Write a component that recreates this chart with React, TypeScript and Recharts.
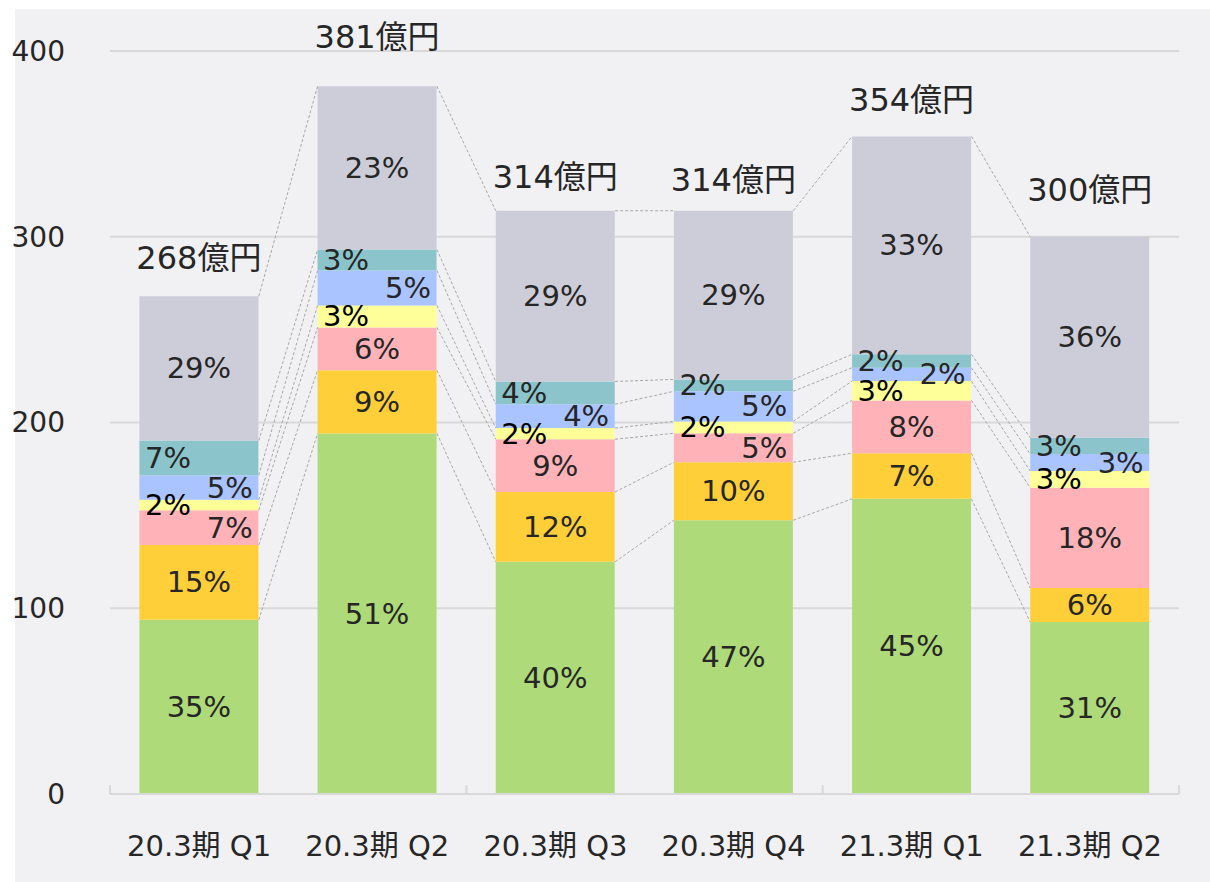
import { ComposedChart, Bar, Line, XAxis, YAxis, CartesianGrid, LabelList } from 'recharts';

// 売上構成（億円）
const categories = ['20.3期 Q1', '20.3期 Q2', '20.3期 Q3', '20.3期 Q4', '21.3期 Q1', '21.3期 Q2'];
const green = [93.8, 194.1, 125.0, 147.4, 158.9, 92.6];
const orange = [40.2, 34.0, 37.6, 31.2, 24.6, 18.3];
const pink = [18.8, 23.1, 28.4, 15.6, 28.4, 54.0];
const yellow = [5.6, 11.8, 6.0, 6.4, 10.4, 9.0];
const blue = [13.2, 18.8, 12.8, 16.2, 7.2, 9.1];
const teal = [18.7, 11.3, 12.3, 6.4, 7.2, 8.8];
const gray = [77.7, 87.9, 91.9, 90.8, 117.3, 108.2];
const yTicks = [0, 100, 200, 300, 400];

const FONT = '"DejaVu Sans", "Noto Sans CJK JP", sans-serif';
const TEXT = '#262626';
const GRID = '#d9d9d9';
const GAP = 0.165; // barCategoryGap as fraction of band
const X_TICK_MARGIN = 41;
// how far each total label sits above its bar (label centre), as placed in the source
const totalLift = [38, 49, 34, 31, 36, 47];

type Place = 'center' | 'left' | 'right' | 'auto';

const series: { key: string; values: number[]; color: string; place: Place; text: string }[] = [
  { key: 'green', values: green, color: '#aeda7a', place: 'center', text: TEXT },
  { key: 'orange', values: orange, color: '#ffcf3a', place: 'center', text: TEXT },
  { key: 'pink', values: pink, color: '#ffb3b8', place: 'auto', text: TEXT },
  { key: 'yellow', values: yellow, color: '#ffff99', place: 'left', text: '#000' },
  { key: 'blue', values: blue, color: '#a9c4ff', place: 'right', text: TEXT },
  { key: 'teal', values: teal, color: '#8bc5cb', place: 'left', text: TEXT },
  { key: 'gray', values: gray, color: '#cdcdd9', place: 'center', text: TEXT },
];

const totals = categories.map((_, i) => Math.round(series.reduce((s, se) => s + se.values[i], 0)));

const data = categories.map((name, i) => {
  const row: Record<string, number | string> = { name, total: totals[i] };
  series.forEach((s) => {
    row[s.key] = s.values[i];
  });
  return row;
});

// dotted connectors between the top of each layer in neighbouring bars
const connectors = series.map((_, k) => {
  const cum = categories.map((__, i) => series.slice(0, k + 1).reduce((s, se) => s + se.values[i], 0));
  const pts: { x: number; y: number | null }[] = [];
  for (let i = 0; i < categories.length - 1; i++) {
    pts.push({ x: i + 1 - GAP, y: cum[i] });
    pts.push({ x: i + 1 + GAP, y: cum[i + 1] });
    pts.push({ x: i + 1 + GAP, y: null });
  }
  return pts;
});

const makeSegmentLabel = (s: (typeof series)[number]) => (props: any) => {
  const { x, y, width, height, value, index } = props;
  if (value == null) return null;
  const pct = Math.round((Number(value) / totals[index]) * 100);
  let place = s.place;
  if (place === 'auto') place = Number(value) < 20 ? 'right' : 'center';
  const shift = Number(width) * 0.26;
  let cx = Number(x) + Number(width) / 2;
  if (place === 'left') cx -= shift;
  if (place === 'right') cx += shift;
  return (
    <text
      x={cx}
      y={Number(y) + Number(height) / 2}
      textAnchor="middle"
      dominantBaseline="central"
      fontSize={29}
      fontFamily={FONT}
      fill={s.text}
    >
      {pct}%
    </text>
  );
};

const TotalLabel = (props: any) => {
  const { x, y, width, value, index } = props;
  return (
    <text
      x={Number(x) + Number(width) / 2}
      y={Number(y) - totalLift[index]}
      textAnchor="middle"
      dominantBaseline="central"
      fontSize={32}
      fontFamily={FONT}
      fill={TEXT}
    >
      {value}億円
    </text>
  );
};

const CategoryTick = (props: any) => {
  const { x, y, payload, index } = props;
  const band = (props.width ?? 1069) / categories.length;
  const axisY = y - X_TICK_MARGIN;
  const last = index === categories.length - 1;
  return (
    <g>
      <text x={x} y={y} dy="0.71em" textAnchor="middle" fontSize={29} fontFamily={FONT} fill={TEXT}>
        {payload.value}
      </text>
      {index % 2 === 0 && (
        <line x1={x - band / 2} x2={x - band / 2} y1={axisY} y2={axisY - 9} stroke={GRID} strokeWidth={2} />
      )}
      {last && <line x1={x + band / 2} x2={x + band / 2} y1={axisY} y2={axisY - 9} stroke={GRID} strokeWidth={2} />}
    </g>
  );
};

const App = () => {
  return (
    <div style={{ position: 'absolute', left: 0, top: 0, width: 1210, height: 882, fontFamily: FONT }}>
      <style>{'body{margin:0;overflow:hidden}'}</style>
      <div style={{ position: 'absolute', left: 15, top: 9, width: 1195, height: 873, background: '#f1f1f4' }} />
      <div style={{ position: 'absolute', left: 0, top: 9 }}>
        <ComposedChart
          width={1210}
          height={873}
          data={data}
          margin={{ top: 42, right: 31, left: 30, bottom: 28 }}
          barCategoryGap={`${GAP * 100}%`}
        >
          <CartesianGrid vertical={false} stroke={GRID} strokeWidth={2} />
          <XAxis
            dataKey="name"
            height={60}
            tickLine={false}
            tickSize={0}
            tickMargin={X_TICK_MARGIN}
            axisLine={{ stroke: GRID, strokeWidth: 2 }}
            tick={<CategoryTick />}
            interval={0}
          />
          <XAxis xAxisId="conn" type="number" dataKey="x" domain={[0, categories.length]} hide />
          <YAxis
            width={80}
            domain={[0, 400]}
            ticks={yTicks}
            axisLine={false}
            tickLine={false}
            tickSize={0}
            tickMargin={45}
            tick={{ fontSize: 28, fill: TEXT, fontFamily: FONT }}
          />
          {series.map((s, k) => (
            <Bar key={s.key} dataKey={s.key} stackId="a" fill={s.color} isAnimationActive={false}>
              <LabelList dataKey={s.key} content={makeSegmentLabel(s)} />
              {k === series.length - 1 && <LabelList dataKey="total" content={TotalLabel} />}
            </Bar>
          ))}
          {connectors.map((pts, k) => (
            <Line
              key={`c${k}`}
              xAxisId="conn"
              data={pts}
              dataKey="y"
              stroke="#a8a8a8"
              strokeWidth={1}
              strokeDasharray="3 2"
              dot={false}
              activeDot={false}
              legendType="none"
              isAnimationActive={false}
            />
          ))}
        </ComposedChart>
      </div>
    </div>
  );
};

export default App;
